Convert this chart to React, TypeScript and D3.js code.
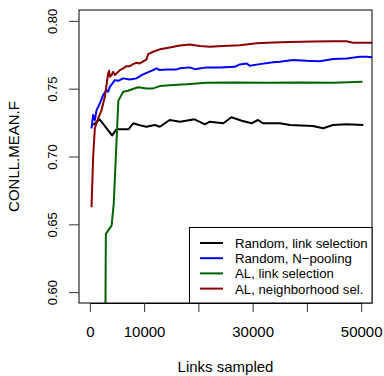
import * as d3 from "d3";
import React, { useEffect, useRef } from "react";

// links sampled / CONLL mean F
const blackX = [600, 1800, 4100, 4900, 7100, 8000, 9200, 10400, 12000, 12900, 14700, 16600, 19300, 21200, 22100, 24600, 26100, 28000, 29800, 31000, 31900, 35000, 36900, 41100, 43000, 44800, 47300, 50400];
const blackY = [0.7232, 0.7274, 0.7156, 0.72, 0.72, 0.7245, 0.723, 0.7219, 0.7232, 0.7219, 0.7269, 0.7257, 0.7274, 0.7237, 0.7257, 0.7245, 0.7289, 0.7264, 0.7245, 0.7269, 0.7245, 0.7245, 0.7232, 0.7225, 0.7208, 0.7232, 0.7237, 0.7232];

const blueX = [310, 610, 920, 1240, 1840, 2450, 3080, 3370, 3690, 4610, 5220, 6140, 7370, 8600, 9530, 10450, 11660, 12290, 12900, 14130, 15980, 16580, 18430, 19350, 21500, 23950, 26720, 27640, 28870, 29480, 31330, 33780, 35010, 37460, 39930, 42380, 44830, 47300, 49750, 50990, 53440];
const blueY = [0.7208, 0.7306, 0.7269, 0.7342, 0.7392, 0.7453, 0.749, 0.7477, 0.7514, 0.7563, 0.7558, 0.7576, 0.7568, 0.7576, 0.76, 0.7617, 0.7637, 0.765, 0.7637, 0.7642, 0.7642, 0.765, 0.7657, 0.7644, 0.7657, 0.7657, 0.7661, 0.7679, 0.7686, 0.7669, 0.7681, 0.7694, 0.7698, 0.7711, 0.7705, 0.7703, 0.7718, 0.7723, 0.7735, 0.7735, 0.7728];

const greenX = [2750, 2950, 4000, 4400, 5250, 6140, 7060, 7370, 8900, 10450, 11660, 12900, 15350, 17820, 21500, 26400, 32560, 38700, 44830, 50250];
const greenY = [0.5, 0.643, 0.649, 0.665, 0.741, 0.7477, 0.7485, 0.749, 0.751, 0.7502, 0.7502, 0.7519, 0.7527, 0.7532, 0.7543, 0.7546, 0.7543, 0.7546, 0.7543, 0.7551];

const redX = [310, 610, 920, 1530, 2160, 2760, 3370, 3560, 3690, 4000, 4290, 4610, 4920, 5530, 6140, 6760, 7370, 7980, 8600, 9210, 10450, 10740, 11660, 12900, 14740, 16580, 18430, 20270, 22110, 24560, 27640, 30720, 33780, 36850, 41150, 44830, 47300, 48520, 50990, 53440];
const redY = [0.6626, 0.7, 0.7208, 0.7281, 0.7342, 0.744, 0.7613, 0.7632, 0.7588, 0.76, 0.7624, 0.76, 0.7613, 0.7637, 0.765, 0.7666, 0.7666, 0.7681, 0.7691, 0.7686, 0.7716, 0.7755, 0.7772, 0.779, 0.7804, 0.7818, 0.7826, 0.7814, 0.7809, 0.7814, 0.7821, 0.7834, 0.7841, 0.7845, 0.7848, 0.785, 0.785, 0.7838, 0.7838, 0.7841];

const seriesNames = ["Random, link selection", "Random, N\u2212pooling", "AL, link selection", "AL, neighborhood sel."];
const seriesColors = ["#000000", "#0000ff", "#006400", "#8b0000"];

const xTicks = [0, 10000, 20000, 30000, 40000, 50000];
const xTickLabels = ["0", "10000", "", "30000", "", "50000"];
const yTicks = [0.6, 0.65, 0.7, 0.75, 0.8];

export default function App() {
  const svgRef = useRef(null);
  const width = 384;
  const height = 376;
  const plot = { left: 79, right: 372, top: 10, bottom: 303 };
  const font = "'Liberation Sans', Arial, Helvetica, sans-serif";

  useEffect(() => {
    const svg = d3.select(svgRef.current);
    svg.selectAll("*").remove();

    const x = d3.scaleLinear().domain([-2000, 52000]).range([plot.left, plot.right]);
    const y = d3.scaleLinear().domain([0.592, 0.808]).range([plot.bottom, plot.top]);

    svg
      .append("defs")
      .append("clipPath")
      .attr("id", "plotclip")
      .append("rect")
      .attr("x", plot.left)
      .attr("y", plot.top)
      .attr("width", plot.right - plot.left)
      .attr("height", plot.bottom - plot.top);

    const series = [
      [blackX, blackY],
      [blueX, blueY],
      [greenX, greenY],
      [redX, redY],
    ];
    const line = d3
      .line()
      .x((d) => x(d[0]))
      .y((d) => y(d[1]));

    const lines = svg.append("g").attr("clip-path", "url(#plotclip)");
    series.forEach((s, i) => {
      const pts = s[0].map((v, j) => [v, s[1][j]]);
      lines
        .append("path")
        .datum(pts)
        .attr("d", line)
        .attr("fill", "none")
        .attr("stroke", seriesColors[i])
        .attr("stroke-width", 2)
        .attr("stroke-linejoin", "round");
    });

    // box
    svg
      .append("rect")
      .attr("x", plot.left)
      .attr("y", plot.top)
      .attr("width", plot.right - plot.left)
      .attr("height", plot.bottom - plot.top)
      .attr("fill", "none")
      .attr("stroke", "#000");

    /* X axis */
    const xAxis = svg
      .append("g")
      .attr("transform", "translate(0," + plot.bottom + ")")
      .call(
        d3
          .axisBottom(x)
          .tickValues(xTicks)
          .tickSize(9)
          .tickSizeOuter(0)
          .tickFormat((d, i) => xTickLabels[i])
      );
    xAxis.select(".domain").attr("d", "M" + x(0) + ",0.5H" + x(50000));
    xAxis.selectAll("line").attr("stroke", "#333");
    xAxis
      .selectAll("text")
      .attr("font-family", font)
      .attr("font-size", 15)
      .attr("fill", "#000")
      .attr("y", 23)
      .attr("dy", "0.71em");

    /* Y axis */
    const yAxis = svg
      .append("g")
      .attr("transform", "translate(" + plot.left + ",0)")
      .call(d3.axisLeft(y).tickValues(yTicks).tickSize(10).tickSizeOuter(0).tickFormat(d3.format(".2f")));
    yAxis.select(".domain").remove();
    yAxis.selectAll("line").attr("stroke", "#333");
    yAxis
      .selectAll("text")
      .attr("font-family", font)
      .attr("font-size", 13)
      .attr("fill", "#000")
      .attr("x", null)
      .attr("dy", null)
      .attr("text-anchor", "middle")
      .attr("transform", "translate(-22,0) rotate(-90)");

    // axis titles
    svg
      .append("text")
      .attr("x", (plot.left + plot.right) / 2)
      .attr("y", 371.5)
      .attr("text-anchor", "middle")
      .attr("font-family", font)
      .attr("font-size", 15)
      .text("Links sampled");
    svg
      .append("text")
      .attr("transform", "translate(18.5," + (plot.top + plot.bottom) / 2 + ") rotate(-90)")
      .attr("text-anchor", "middle")
      .attr("font-family", font)
      .attr("font-size", 15)
      .text("CONLL.MEAN.F");

    // legend
    const lg = svg.append("g");
    lg.append("rect")
      .attr("x", 189.5)
      .attr("y", 227.5)
      .attr("width", plot.right - 189.5)
      .attr("height", plot.bottom - 227.5)
      .attr("fill", "#fff")
      .attr("stroke", "#000");
    seriesNames.forEach((name, i) => {
      const cy = 243 + i * 15.2;
      lg.append("line")
        .attr("x1", 200)
        .attr("x2", 223)
        .attr("y1", cy)
        .attr("y2", cy)
        .attr("stroke", seriesColors[i])
        .attr("stroke-width", 2);
      lg.append("text")
        .attr("x", 235)
        .attr("y", cy + 5)
        .attr("font-family", font)
        .attr("font-size", 13.2)
        .text(name);
    });
  });

  return (
    <svg
      ref={svgRef}
      width={width}
      height={height}
      style={{ position: "absolute", left: 0, top: 0, background: "#fff" }}
    ></svg>
  );
}
